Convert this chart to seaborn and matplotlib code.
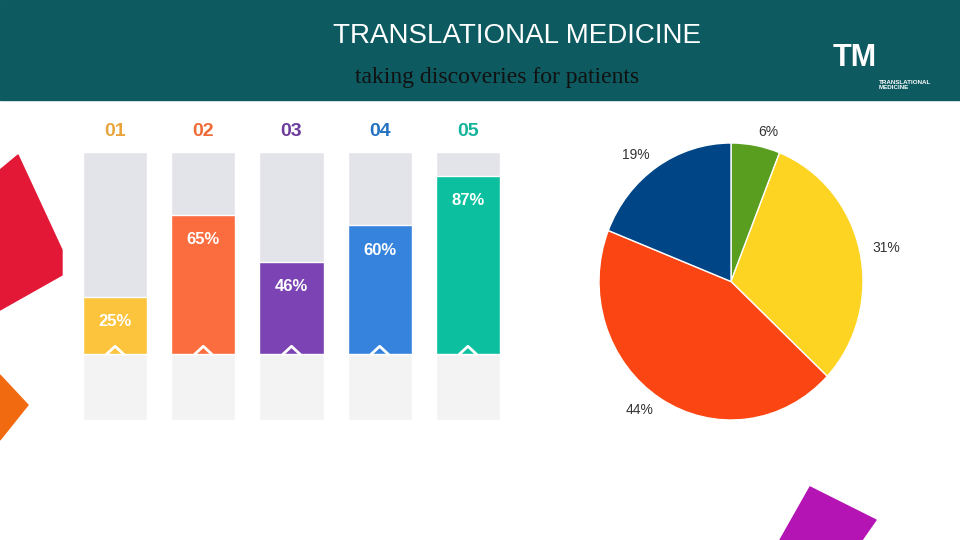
# Translational medicine progress bars + pie
import matplotlib
matplotlib.use("Agg")
import matplotlib.pyplot as plt
import matplotlib.patches as mpatches
import seaborn as sns
import pandas as pd

# Data
bar_labels = ["01", "02", "03", "04", "05"]
bar_values = [28, 68, 45, 63, 87]
bar_texts = ["25%", "65%", "46%", "60%", "87%"]
bar_colors = ["#fcc43c", "#fb6c3e", "#7b43b3", "#3583dc", "#0cbf9f"]
label_colors = ["#e9a53c", "#ef6a36", "#6b3c9c", "#2271c2", "#14b49b"]

pie_labels = ["6%", "31%", "44%", "19%"]
pie_values = [6, 31, 44, 19]
pie_colors = ["#5a9e1f", "#fdd422", "#fb4614", "#004586"]

sns.set_theme(style="white")
plt.rcParams['font.family'] = ['Liberation Sans', 'DejaVu Sans']

fig = plt.figure(figsize=(9.6, 5.4), dpi=100)
fig.patch.set_facecolor("white")

# Decorative shapes (figure coords)
def poly(pts, color):
    fig.patches.append(mpatches.Polygon([(x / 960, 1 - y / 540) for x, y in pts],
                                        closed=True, transform=fig.transFigure,
                                        color=color, zorder=0))

poly([(0, 170), (18, 155), (62, 250), (62, 275), (0, 310)], "#e31837")
poly([(0, 375), (28, 405), (0, 440)], "#f26a10")
poly([(810, 487), (876, 520), (862, 540), (780, 540)], "#b414b4")

# Header band
fig.patches.append(mpatches.Rectangle((0, 1 - 100 / 540), 1, 100 / 540,
                                      transform=fig.transFigure, color="#0d5a60", zorder=1))
poly([(195, 0), (280, 0), (255, 28)], "#1aa6a0")
fig.text(517 / 960, 1 - 36 / 540, "TRANSLATIONAL MEDICINE", color="white",
         fontsize=20, ha="center", va="center")
fig.text(497 / 960, 1 - 77 / 540, "taking discoveries for patients", color="#111111",
         fontsize=17, ha="center", va="center", family=["Liberation Serif", "DejaVu Serif"])
fig.text(855 / 960, 1 - 58 / 540, "TM", color="white", fontsize=22, fontweight="bold",
         ha="center", va="center")
fig.text(879 / 960, 1 - 85 / 540, "TRANSLATIONAL\nMEDICINE", color="white", fontsize=4.5,
         fontweight="bold", ha="left", va="center", linespacing=1.0)
poly([(790, 35), (815, 25), (820, 32), (797, 45)], "#7ab648")
poly([(784, 55), (800, 45), (803, 70), (790, 72)], "#1aa6a0")

# Bars
ax = fig.add_axes([71 / 960, 120 / 540, 441 / 960, 301 / 540])
df = pd.DataFrame({"label": bar_labels, "value": bar_values})
ax.bar(range(5), [99] * 5, width=0.727, color="#e3e3ea", zorder=0)
ax.bar(range(5), [-32] * 5, width=0.727, color="#f3f3f3", zorder=0)
sns.barplot(data=df, x="label", y="value", hue="label", palette=bar_colors,
            width=0.727, legend=False, ax=ax, saturation=1, zorder=2)
for i in range(5):
    ax.text(i, bar_values[i] - 12, bar_texts[i], ha="center", va="center",
            color="#ffffff", fontsize=12, fontweight="bold", zorder=3)
    ax.text(i, 109, bar_labels[i], ha="center", va="center", color=label_colors[i],
            fontsize=14, fontweight="bold")
    ax.plot([i - 0.1, i, i + 0.1], [0, 4, 0], color="white", lw=2, zorder=3)
ax.set_ylim(-32, 115)
ax.set_xlim(-0.5, 4.5)
ax.axis("off")

# Pie
pax = fig.add_axes([599 / 960, 120 / 540, 264 / 960, 277 / 540])
pax.pie(pie_values, labels=pie_labels, colors=pie_colors, startangle=90,
        counterclock=False, labeldistance=1.1,
        textprops={"fontsize": 10, "color": "#333333"})
pax.set_aspect("auto")
pax.set_xlim(-1, 1)
pax.set_ylim(-1, 1)

fig.savefig("out.png", dpi=100)
